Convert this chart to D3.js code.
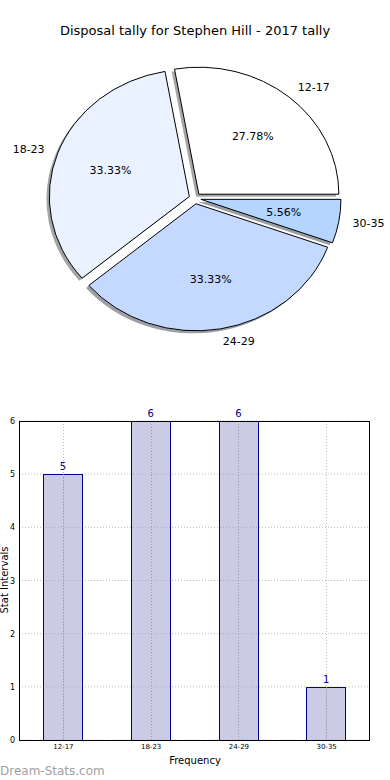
<!DOCTYPE html>
<html><head><meta charset="utf-8">
<script src="https://cdn.jsdelivr.net/npm/d3@7"></script>
<style>body{margin:0;background:#fff}svg{display:block}text{font-family:"DejaVu Sans",sans-serif}</style>
</head><body>
<svg id="c" width="390" height="780"></svg>
<script>
const categories = ["12-17","18-23","24-29","30-35"];
const values = [5, 6, 6, 1];
const pieColors = ["#ffffff","#eaf2ff","#c4d9ff","#b3d5ff"];
const yTicks = [0,1,2,3,4,5,6];
const title = "Disposal tally for Stephen Hill - 2017 tally";

const svg = d3.select("#c");
svg.append("text").attr("x",195).attr("y",35).attr("text-anchor","middle").attr("font-size",13).attr("fill","#000").text(title);

// ----- Pie -----
const cx = 195, cy = 198.4, rx = 140, ry = 127, ex = 0.043;
const total = d3.sum(values);
const pie = d3.pie().sort(null).value(d=>d)
  .startAngle(Math.PI/2).endAngle(Math.PI/2 - 2*Math.PI);
const arcs = pie(values);
const arcGen = d3.arc().innerRadius(0).outerRadius(1);
const g = svg.append("g");
function geom(a){
  const mid = (a.startAngle + a.endAngle)/2;
  const ux = Math.sin(mid), uy = -Math.cos(mid);
  return {ux, uy, ox: cx + ex*rx*ux, oy: cy + ex*ry*uy,
    path: arcGen({startAngle:Math.min(a.startAngle,a.endAngle), endAngle:Math.max(a.startAngle,a.endAngle)})};
}
arcs.forEach((a,i)=>{
  const q = geom(a);
  const c = d3.rgb(pieColors[i]);
  g.append("path").attr("d",q.path)
    .attr("transform",`translate(${q.ox-0.02*rx},${q.oy+0.02*ry}) scale(${rx},${ry})`)
    .attr("fill", d3.rgb(c.r*0.3,c.g*0.3,c.b*0.3))
    .attr("fill-opacity",0.5);
});
arcs.forEach((a,i)=>{
  const q = geom(a);
  g.append("path").attr("d",q.path)
    .attr("transform",`translate(${q.ox},${q.oy}) scale(${rx},${ry})`)
    .attr("fill",pieColors[i]).attr("stroke","#000").attr("stroke-width",1)
    .attr("vector-effect","non-scaling-stroke");
  const lx = q.ox + 1.1*rx*q.ux, ly = q.oy + 1.1*ry*q.uy;
  g.append("text").attr("x",lx).attr("y",ly).attr("dy","0.35em")
    .attr("text-anchor", q.ux>0 ? "start" : "end").attr("font-size",11).text(categories[i]);
  const px = q.ox + 0.6*rx*q.ux, py = q.oy + 0.6*ry*q.uy;
  g.append("text").attr("x",px).attr("y",py).attr("dy","0.35em")
    .attr("text-anchor","middle").attr("font-size",11)
    .text((values[i]/total*100).toFixed(2)+"%");
});

// ----- Bar chart -----
const L=19, R=370, T=421, B=740;
const x = d3.scaleLinear().domain([-0.5,3.5]).range([L,R]);
const y = d3.scaleLinear().domain([0,6]).range([B,T]);
const bw = 0.45;
const bg = svg.append("g");
yTicks.forEach(t=>{
  bg.append("line").attr("x1",L).attr("x2",R).attr("y1",y(t)).attr("y2",y(t))
    .attr("stroke","#bbb").attr("stroke-dasharray","1,2").attr("stroke-width",1);
});
categories.forEach((c,i)=>{
  bg.append("line").attr("x1",Math.round(x(i))+0.5).attr("x2",Math.round(x(i))+0.5).attr("y1",T).attr("y2",B)
    .attr("stroke","#bbb").attr("stroke-dasharray","1,2").attr("stroke-width",1);
});
categories.forEach((c,i)=>{
  const x0 = x(i-bw/2), x1 = x(i+bw/2);
  bg.append("rect").attr("x",Math.round(x0)+0.5).attr("y",Math.round(y(values[i]))+0.5)
    .attr("width",Math.round(x1-x0)).attr("height",Math.round(y(0)-y(values[i])))
    .attr("fill","rgba(160,160,210,0.55)").attr("stroke","#00008b").attr("stroke-width",1);
  bg.append("line").attr("x1",Math.round(x(i))+0.5).attr("x2",Math.round(x(i))+0.5).attr("y1",y(values[i]))
    .attr("y2",B).attr("stroke","#999").attr("stroke-dasharray","1,2");
  bg.append("text").attr("x",x(i)).attr("y",y(values[i])-4).attr("text-anchor","middle")
    .attr("font-size",10).attr("fill","#00008b").text(values[i]);
});
bg.append("rect").attr("x",L+0.5).attr("y",T+0.5).attr("width",R-L-1).attr("height",B-T)
  .attr("fill","none").attr("stroke","#000").attr("stroke-width",1);
const yAxis = d3.axisLeft(y).tickValues(yTicks).tickSize(0).tickPadding(4).tickFormat(d3.format("d"));
const ya = bg.append("g").attr("transform",`translate(${L},0)`).call(yAxis);
ya.select(".domain").remove();
ya.selectAll("text").attr("font-size",8).attr("font-family","DejaVu Sans, sans-serif");
const xAxis = d3.axisBottom(x).tickValues(d3.range(categories.length)).tickSize(0).tickPadding(4)
  .tickFormat(i=>categories[i]);
const xa = bg.append("g").attr("transform",`translate(0,${B})`).call(xAxis);
xa.select(".domain").remove();
xa.selectAll("text").attr("font-size",7).attr("font-family","DejaVu Sans, sans-serif");
bg.append("text").attr("x",195).attr("y",764).attr("text-anchor","middle").attr("font-size",10).text("Frequency");
bg.append("text").attr("transform","translate(8,580) rotate(-90)").attr("text-anchor","middle").attr("font-size",10).text("Stat Intervals");
svg.append("text").attr("x",0).attr("y",775).attr("font-size",12).attr("fill","#a0a0a0").text("Dream-Stats.com");
</script>
</body></html>
